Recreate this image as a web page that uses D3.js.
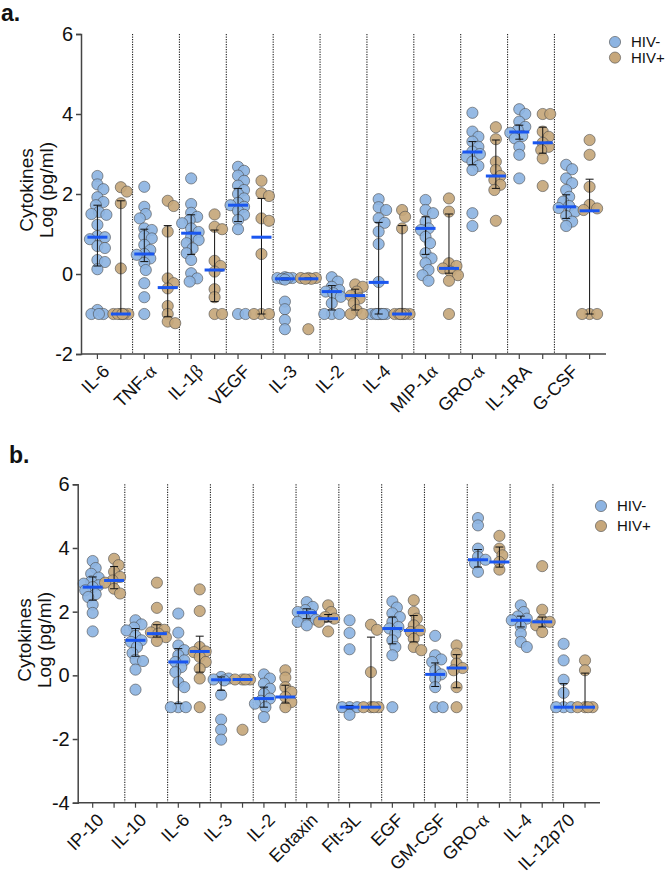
<!DOCTYPE html>
<html>
<head>
<meta charset="utf-8">
<script src="https://cdn.jsdelivr.net/npm/d3@7"></script>
<style>
  html, body { margin: 0; padding: 0; background: #fff; }
  svg { display: block; font-family: "Liberation Sans", Arial, sans-serif; }
</style>
</head>
<body>
<svg id="chart" width="666" height="873"></svg>
<script>
// ---------- Panel a data ----------
const categoriesA = ["IL-6","TNF-α","IL-1β","VEGF","IL-3","IL-2","IL-4","MIP-1α","GRO-α","IL-1RA","G-CSF"];
const hivNegA = [
  [2.45,2.24,2.12,1.92,1.8,1.72,1.55,1.5,1.48,1.23,0.95,0.92,0.87,0.7,0.65,0.35,0.3,0.12,-0.9,-1,-1,-1],
  [2.18,1.68,1.5,1.39,1.14,1.1,0.95,0.89,0.73,0.6,0.5,0.48,0.39,0.28,0.1,-0.23,-0.58,-1],
  [2.39,1.75,1.53,1.43,1.35,1.27,1.14,1.05,0.93,0.85,0.77,0.64,0.52,0.35,0.02,-0.11,-0.19],
  [2.68,2.58,2.46,2.33,2.21,2.1,2.0,1.89,1.78,1.72,1.68,1.58,1.48,1.35,1.12,-1,-1],
  [-0.08,-0.1,-0.1,-0.12,-0.1,-0.14,-0.69,-0.88,-1.15,-1.38],
  [-0.08,-0.19,-0.32,-0.4,-0.44,-0.48,-0.57,-0.73,-1,-1,-1],
  [1.87,1.67,1.6,1.39,1.28,1.06,0.75,-0.2,-1,-1,-1,-1,-1,-1,-1,-1],
  [1.85,1.6,1.52,1.31,1.14,1.1,0.93,0.77,0.52,0.39,0.27,0.1,-0.03,-0.17],
  [4.03,3.56,3.43,3.31,3.18,3.06,3.0,2.93,2.81,2.7,2.6,1.52,1.2],
  [4.12,4.0,3.81,3.68,3.6,3.53,3.45,3.39,3.18,2.98,2.39],
  [2.73,2.62,2.39,2.27,2.1,1.93,1.81,1.7,1.65,1.56,1.45,1.31,1.2]
];
const hivPosA = [
  [2.17,2.06,1.77,0.14,-1,-1,-1,-1,-1,-1],
  [1.83,1.7,1.06,-0.11,-0.23,-0.36,-0.8,-1,-1.19,-1.23],
  [1.49,1.18,1.12,0.33,0.2,0.06,-0.38,-0.58,-1,-1],
  [2.33,2.02,1.95,1.39,1.33,0.5,-1,-1,-1],
  [-0.1,-0.1,-0.12,-0.1,-0.12,-1.38],
  [-0.26,-0.32,-0.44,-0.54,-0.61,-0.73,-0.9,-1,-1],
  [1.6,1.43,1.14,-1,-1,-1,-1,-1,-1,-1],
  [1.89,1.56,0.27,0.2,0.14,0.06,-0.03,-0.17,-1],
  [3.67,3.37,2.81,2.6,2.45,2.35,2.23,2.1,1.33],
  [4.0,4.0,3.56,3.43,3.28,3.18,3.1,2.89,2.2],
  [3.35,2.98,2.18,1.73,1.64,1.6,-1,-1,-1]
];
const medianNegA = [0.92,0.5,1.02,1.72,-0.12,-0.44,-0.21,1.14,3.05,3.55,1.68];
const lowNegA    = [0.2,0.31,0.49,1.31,-0.15,-0.9,-1,0.49,2.73,3.37,1.39];
const highNegA   = [1.72,1.12,1.48,2.14,-0.1,-0.29,1.29,1.43,3.31,3.72,1.98];
const medianPosA = [-1,-0.34,0.1,0.92,-0.12,-0.54,-1,0.14,2.45,3.28,1.58];
const lowPosA    = [-1,-1.07,-0.69,-1,-0.14,-0.9,-1,0.02,2.14,3.02,-1];
const highPosA   = [1.83,1.21,1.1,1.89,-0.1,-0.38,1.21,1.5,3.35,3.67,2.37];
const yTicksA = [-2,0,2,4,6];

// ---------- Panel b data ----------
const categoriesB = ["IP-10","IL-10","IL-6","IL-3","IL-2","Eotaxin","Flt-3L","EGF","GM-CSF","GRO-α","IL-4","IL-12p70"];
const hivNegB = [
  [3.59,3.37,3.19,3.07,2.95,2.88,2.83,2.77,2.67,2.55,2.46,2.22,1.96,1.38],
  [1.73,1.6,1.5,1.41,1.24,1.1,1.05,0.89,0.7,0.49,0.45,0.18,-0.45],
  [1.94,1.34,0.94,0.79,0.63,0.47,0.42,0.26,0.1,-0.21,-0.37,-1,-1,-1],
  [-0.05,-0.1,-0.13,-0.16,-0.61,-1.39,-1.71,-2.02],
  [0.03,-0.1,-0.26,-0.42,-0.58,-0.73,-0.8,-0.89,-1,-1.31],
  [2.3,2.15,2.05,1.99,1.9,1.83,1.75,1.68,1.57],
  [1.73,1.33,0.82,-1,-1,-1,-1.24],
  [2.32,2.13,1.95,1.83,1.68,1.52,1.47,1.31,1.1,0.89,0.63,-1],
  [1.24,0.63,0.5,0.42,0.16,0.03,-0.1,-0.37,-1,-1],
  [4.94,4.71,3.98,3.72,3.63,3.51,3.25],
  [2.2,1.99,1.85,1.78,1.73,1.54,1.31,1.05,0.89],
  [0.99,0.47,-0.14,-0.55,-1,-1,-1]
];
const hivPosB = [
  [3.66,3.46,3.25,3.09,2.98,2.91,2.72,2.57],
  [2.91,2.12,1.52,1.43,1.35,1.31,1.2,1.08],
  [2.7,2.02,0.89,0.75,0.73,0.58,0.42,0.21,-0.1,-1],
  [-0.13,-0.13,-0.13,-0.13,-1.71],
  [0.16,-0.07,-0.37,-0.52,-0.68,-0.84,-1],
  [2.2,1.99,1.83,1.78,1.68,1.38],
  [1.59,1.43,0.1,-1,-1,-1,-1],
  [2.36,1.99,1.78,1.57,1.41,1.36,1.15,0.89,0.79],
  [0.94,0.68,0.37,0.23,0.16,-0.37,-1],
  [4.38,3.98,3.77,3.56,3.32],
  [3.43,2.06,1.73,1.68,1.57,1.36],
  [0.47,0.16,-1,-1,-1,-1]
];
const medianNegB = [2.77,1.1,0.42,-0.14,-0.73,1.97,-1,1.47,0.03,3.63,1.73,-1];
const lowNegB    = [2.36,0.6,-0.89,-0.47,-1,1.78,-1.05,0.99,-0.35,3.4,1.52,-1];
const highNegB   = [3.09,1.47,0.84,-0.05,-0.37,2.09,-0.95,1.83,0.39,3.95,1.86,-0.26];
const medianPosB = [2.98,1.31,0.75,-0.13,-0.68,1.78,-1,1.41,0.23,3.56,1.68,-1];
const lowPosB    = [2.72,1.2,0.1,-0.15,-0.87,1.68,-1,1.05,-0.39,3.4,1.52,-1];
const highPosB   = [3.42,1.59,1.23,-0.1,-0.31,1.91,1.2,1.88,0.65,4.03,1.83,0.07];
const yTicksB = [-4,-2,0,2,4,6];

const groups = ["HIV-","HIV+"];
const fills = {"HIV-":"#8db4e2","HIV+":"#c6a77b"};

const svg = d3.select("#chart");
const R = 5.6;

function swarm(vals, cx, y) {
  const placed = [];
  const sorted = vals.slice().sort((a,b)=>b-a);
  const minD = 7.2, step = 1.5, maxOff = 9;
  sorted.forEach(v => {
    const py = y(v);
    let best = null, bestScore = -1;
    for (let k = 0; k <= maxOff/step; k++) {
      const offs = k === 0 ? [0] : [k*step, -k*step];
      let found = false;
      for (const o of offs) {
        const px = cx + o;
        let md = Infinity;
        placed.forEach(p => { md = Math.min(md, Math.hypot(p.x-px, p.y-py)); });
        if (md >= minD) { best = px; found = true; break; }
        if (md > bestScore) { bestScore = md; best = px; }
      }
      if (found) break;
    }
    placed.push({x: best, y: py, v});
  });
  return placed;
}

function labelText(sel, s) {
  const parts = s.split(/([αβ])/);
  parts.forEach(p => {
    if (!p) return;
    const t = sel.append("tspan").text(p);
    if (p === "α" || p === "β") t.attr("font-family", "Liberation Serif, serif").attr("font-size", 19);
  });
}

function panel(cfg) {
  const g = svg.append("g");
  const x = d3.scaleBand().domain(cfg.cats).range(cfg.xRange).paddingOuter(0.1).paddingInner(0);
  const gx = d3.scalePoint().domain(groups).range([0, x.bandwidth()]).padding(0.5);
  const y = d3.scaleLinear().domain(cfg.yDomain).range(cfg.yRange);

  g.append("g").selectAll("line").data(cfg.cats.slice(1)).join("line")
    .attr("x1", d => x(d)).attr("x2", d => x(d))
    .attr("y1", y(cfg.yDomain[1])).attr("y2", y(cfg.yDomain[0]))
    .attr("stroke", "#222").attr("stroke-width", 1.1).attr("stroke-dasharray", "1.2,1.3");

  const sets = [
    {grp:"HIV-", vals:cfg.neg, med:cfg.medNeg, lo:cfg.loNeg, hi:cfg.hiNeg},
    {grp:"HIV+", vals:cfg.pos, med:cfg.medPos, lo:cfg.loPos, hi:cfg.hiPos}
  ];
  sets.forEach(s => {
    cfg.cats.forEach((c, i) => {
      const cx = x(c) + gx(s.grp);
      const pts = swarm(s.vals[i], cx, y);
      g.append("g").selectAll("circle").data(pts).join("circle")
        .attr("cx", d => d.x).attr("cy", d => d.y).attr("r", R)
        .attr("fill", fills[s.grp]).attr("fill-opacity", 0.92)
        .attr("stroke", "#4b4b4b").attr("stroke-width", 0.8).attr("stroke-opacity", 0.75);
    });
  });
  sets.forEach(s => {
    cfg.cats.forEach((c, i) => {
      const cx = x(c) + gx(s.grp);
      const eg = g.append("g").attr("stroke", "#111").attr("stroke-width", 1);
      eg.append("line").attr("x1", cx).attr("x2", cx).attr("y1", y(s.lo[i])).attr("y2", y(s.hi[i]));
      [s.lo[i], s.hi[i]].forEach(v => {
        eg.append("line").attr("x1", cx-4).attr("x2", cx+4).attr("y1", y(v)).attr("y2", y(v));
      });
      g.append("line").attr("x1", cx-10).attr("x2", cx+10)
        .attr("y1", y(s.med[i])).attr("y2", y(s.med[i]))
        .attr("stroke", "#1a56f0").attr("stroke-width", 3);
    });
  });

  const ya = g.append("g").attr("transform", `translate(${cfg.xRange[0]},0)`)
    .call(d3.axisLeft(y).tickValues(cfg.yTicks).tickSize(5).tickPadding(3).tickFormat(d => d < 0 ? "-" + Math.abs(d) : d));
  ya.select(".domain").attr("stroke", "#444").attr("stroke-width", 1.5);
  ya.selectAll(".tick line").attr("stroke", "#444").attr("stroke-width", 1.5);
  ya.selectAll("text").attr("font-size", 20).attr("fill", "#111").attr("font-family", "Liberation Sans, Arial, sans-serif");

  const xa = g.append("g").attr("transform", `translate(0,${y(cfg.yDomain[0])})`);
  xa.append("line").attr("x1", cfg.xRange[0]).attr("x2", cfg.xRange[1])
    .attr("stroke", "#444").attr("stroke-width", 1.5);
  cfg.cats.forEach(c => groups.forEach(gr => {
    const tx = x(c) + gx(gr);
    xa.append("line").attr("x1", tx).attr("x2", tx).attr("y1", 0).attr("y2", 5)
      .attr("stroke", "#444").attr("stroke-width", 1.2);
  }));
  cfg.cats.forEach(c => {
    const cxm = x(c) + x.bandwidth()/2;
    const t = xa.append("text")
      .attr("transform", `translate(${cxm - 3},${14}) rotate(-45)`)
      .attr("text-anchor", "end").attr("dy", "0.35em")
      .attr("font-size", 18).attr("fill", "#111");
    labelText(t, c);
  });

  const yl = g.append("text")
    .attr("transform", `translate(${cfg.ylabX},${cfg.ylabY}) rotate(-90)`)
    .attr("text-anchor", "middle").attr("font-size", 19).attr("fill", "#111");
  yl.append("tspan").attr("x", 0).attr("dy", 0).text("Cytokines");
  yl.append("tspan").attr("x", 0).attr("dy", 20).text("Log (pg/ml)");

  groups.forEach((gr, i) => {
    const ly = cfg.legY + i*cfg.legGap;
    g.append("circle").attr("cx", cfg.legX).attr("cy", ly).attr("r", R)
      .attr("fill", fills[gr]).attr("stroke", "#4b4b4b").attr("stroke-width", 0.8).attr("stroke-opacity", 0.75);
    g.append("text").attr("x", cfg.legX + 16).attr("y", ly).attr("dy", "0.35em")
      .attr("font-size", 15).attr("fill", "#111").text(gr);
  });

  g.append("text").attr("x", cfg.letX).attr("y", cfg.letY)
    .attr("font-size", 23).attr("font-weight", "bold").attr("fill", "#111").text(cfg.letter);
}

panel({
  cats: categoriesA, neg: hivNegA, pos: hivPosA,
  medNeg: medianNegA, loNeg: lowNegA, hiNeg: highNegA,
  medPos: medianPosA, loPos: lowPosA, hiPos: highPosA,
  yTicks: yTicksA, yDomain: [-2, 6], yRange: [354, 34], xRange: [81, 606],
  ylabX: 33, ylabY: 190, legX: 615, legY: 42, legGap: 15.6,
  letter: "a.", letX: 1, letY: 21
});
panel({
  cats: categoriesB, neg: hivNegB, pos: hivPosB,
  medNeg: medianNegB, loNeg: lowNegB, hiNeg: highNegB,
  medPos: medianPosB, loPos: lowPosB, hiPos: highPosB,
  yTicks: yTicksB, yDomain: [-4, 6], yRange: [802.7, 484.3], xRange: [77.7, 600],
  ylabX: 31, ylabY: 640, legX: 601, legY: 506, legGap: 20,
  letter: "b.", letX: 9, letY: 463
});
</script>
</body>
</html>
